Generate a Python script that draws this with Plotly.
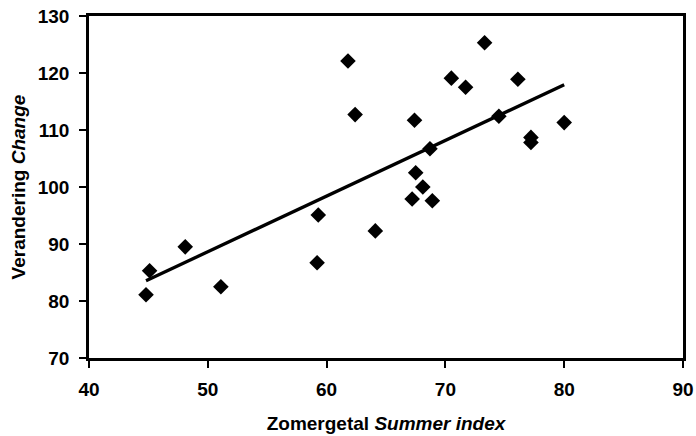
import numpy as np
import plotly.graph_objects as go

summer_index = [44.8, 45.1, 48.1, 51.1, 59.3, 59.2, 61.8, 62.4, 64.1, 67.4, 67.2, 68.1,
                67.5, 68.9, 68.7, 70.5, 71.7, 73.3, 74.5, 76.1, 77.2, 77.2, 80.0]
change = [81.1, 85.3, 89.5, 82.5, 95.1, 86.7, 122.1, 112.7, 92.3, 111.7, 97.9, 100.0,
          102.5, 97.6, 106.7, 119.1, 117.5, 125.3, 112.4, 118.9, 108.7, 107.8, 111.3]

x_ticks = [40, 50, 60, 70, 80, 90]
y_ticks = [70, 80, 90, 100, 110, 120, 130]

slope, intercept = np.polyfit(summer_index, change, 1)
trend_x = [min(summer_index), max(summer_index)]
trend_y = [slope * v + intercept for v in trend_x]

fig = go.Figure()
fig.add_trace(go.Scatter(x=summer_index, y=change, mode="markers",
                         marker=dict(symbol="diamond", size=12, color="black"),
                         showlegend=False, cliponaxis=False))
fig.add_trace(go.Scatter(x=trend_x, y=trend_y, mode="lines",
                         line=dict(color="black", width=3.3), showlegend=False))

font = dict(family="Liberation Sans, Arial, sans-serif", color="black")
fig.update_layout(
    width=696, height=436,
    margin=dict(l=89, r=13, t=16, b=78, autoexpand=False),
    paper_bgcolor="white", plot_bgcolor="white",
    font=font,
    xaxis=dict(range=[40, 90], tickvals=x_ticks, ticks="outside", ticklen=7,
               tickwidth=1.5, tickcolor="black", showgrid=False, zeroline=False,
               showline=True, linecolor="black", linewidth=2.5, mirror=True,
               automargin=False,
               tickfont=dict(size=19, weight="bold"), ticklabelstandoff=5,
               title=dict(text="Zomergetal <i>Summer index</i>",
                          font=dict(size=19, weight="bold"), standoff=19)),
    yaxis=dict(range=[70, 130], tickvals=y_ticks, ticks="outside", ticklen=7,
               tickwidth=1.5, tickcolor="black", showgrid=False, zeroline=False,
               showline=True, linecolor="black", linewidth=2.5, mirror=True,
               automargin=False,
               tickfont=dict(size=19, weight="bold"), ticklabelstandoff=6,
               title=dict(text="Verandering <i>Change</i>",
                          font=dict(size=19, weight="bold"), standoff=8)),
)

fig.write_html("out.html",
               config={"displayModeBar": False},
               post_script="document.body.style.margin='0';document.body.style.overflow='hidden';")
